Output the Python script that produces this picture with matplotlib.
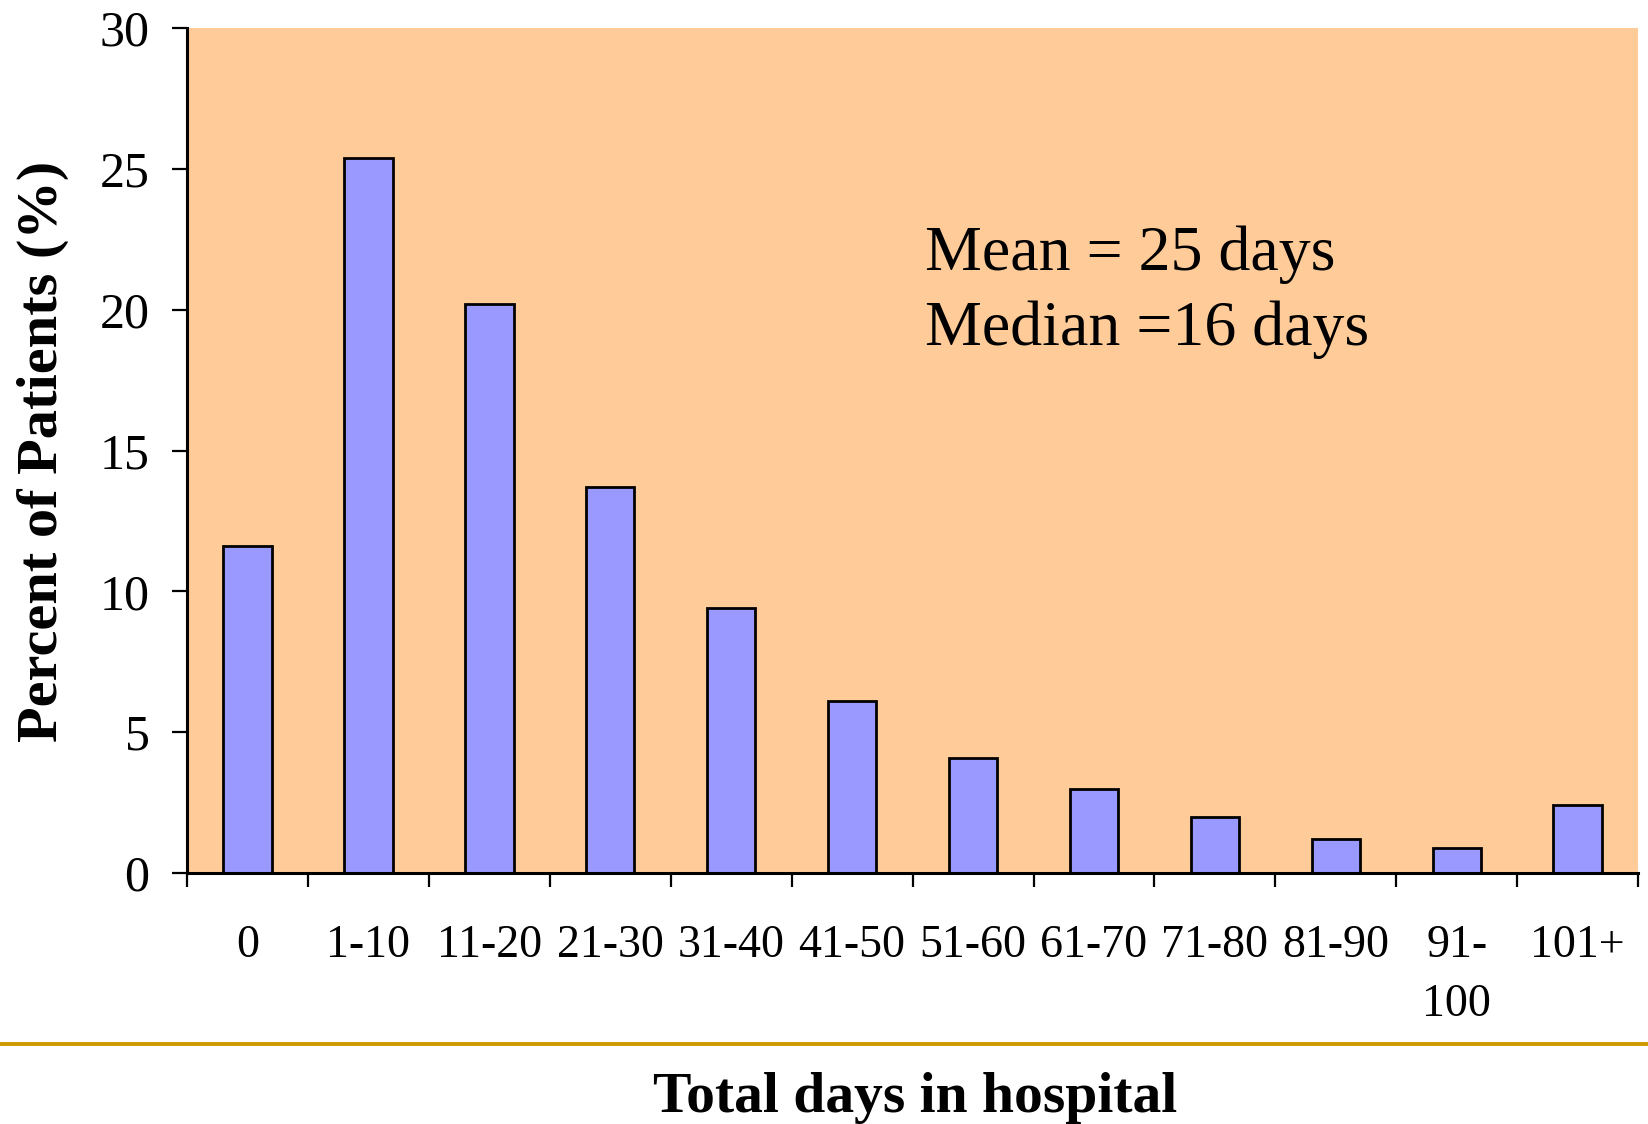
import numpy as np
import matplotlib.pyplot as plt
from matplotlib.lines import Line2D

# Length of stay distribution
categories = ["0", "1-10", "11-20", "21-30", "31-40", "41-50", "51-60",
              "61-70", "71-80", "81-90", "91-\n100", "101+"]
percent = [11.6, 25.4, 20.2, 13.7, 9.4, 6.1, 4.1, 3.0, 2.0, 1.2, 0.9, 2.4]

plt.rcParams['font.family'] = ['Liberation Serif', 'DejaVu Serif']

fig = plt.figure(figsize=(16.48, 11.24), dpi=100)
ax = fig.add_axes([0.1135, 0.2233, 0.8805, 0.7517])
ax.set_facecolor('#FFCC99')

x = np.arange(len(categories))
ax.bar(x, percent, width=0.4, color='#9999FF', edgecolor='black', linewidth=2.0)

ax.set_xlim(-0.5, len(categories) - 0.5)
ax.set_ylim(0, 30)
ax.set_yticks(range(0, 31, 5))

# boundary ticks between groups, labels at the group centres
ax.set_xticks(np.arange(-0.5, len(categories), 1.0))
ax.set_xticklabels([])
ax.set_xticks(x, minor=True)
ax.set_xticklabels(categories, minor=True, fontsize=33, linespacing=1.5)
ax.tick_params(axis='x', which='major', direction='out', length=10, width=1.6)
ax.tick_params(axis='x', which='minor', length=0, pad=37)
ax.tick_params(axis='y', direction='out', length=11, width=1.6, labelsize=36, pad=16)

for side in ('top', 'right'):
    ax.spines[side].set_visible(False)
for side in ('left', 'bottom'):
    ax.spines[side].set_linewidth(2.2)

ax.text(5.6, 21.4, "Mean = 25 days", fontsize=46, va='baseline')
ax.text(5.6, 18.74, "Median =16 days", fontsize=46, va='baseline')

fig.text(0.026, 0.598, "Percent of Patients (%)", rotation=90, fontsize=42,
         fontweight='bold', ha='center', va='center')
fig.text(0.555, 1 - 1098 / 1124, "Total days in hospital", fontsize=41.5,
         fontweight='bold', ha='center', va='center')

fig.add_artist(Line2D([0, 1], [1 - 1044 / 1124] * 2, color='#CC9900',
                      linewidth=2.8, transform=fig.transFigure))

fig.savefig('out.png', dpi=100)
